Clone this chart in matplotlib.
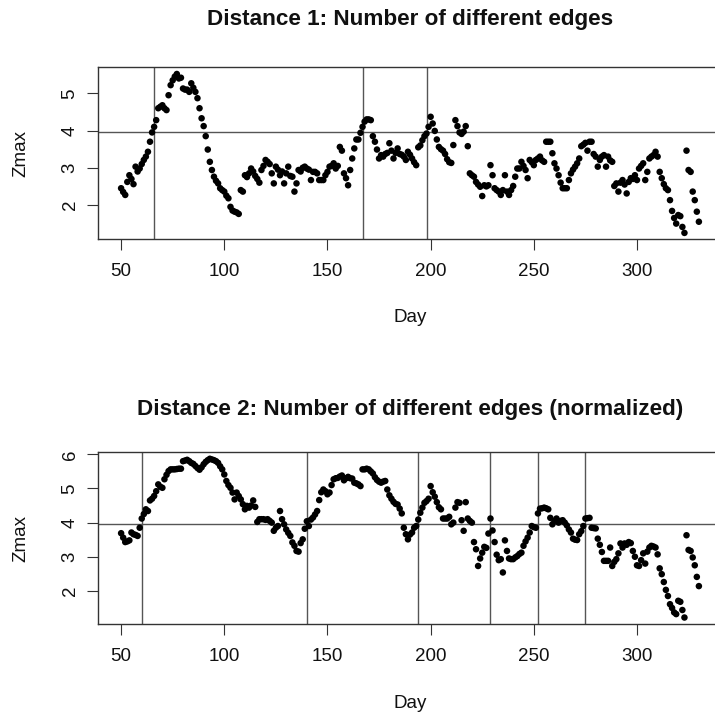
import numpy as np
import matplotlib
matplotlib.use("Agg")
import matplotlib.pyplot as plt

plt.rcParams['font.family'] = ['Liberation Sans', 'DejaVu Sans']

DAY_START, DAY_END = 50, 330
days = list(range(DAY_START, DAY_END + 1))

zmax_d1 = [
    2.45, 2.35, 2.27, 2.62, 2.80, 2.70, 2.56, 3.03, 2.90, 2.98,
    3.10, 3.21, 3.30, 3.43, 3.70, 3.95, 4.10, 4.28, 4.60, 4.64,
    4.68, 4.60, 4.55, 4.95, 5.22, 5.35, 5.45, 5.52, 5.40, 5.42,
    5.13, 5.10, 5.10, 5.04, 5.27, 5.15, 5.04, 4.87, 4.60, 4.33,
    4.12, 3.85, 3.49, 3.16, 2.94, 2.76, 2.65, 2.58, 2.45, 2.40,
    2.36, 2.25, 2.18, 1.95, 1.85, 1.82, 1.80, 1.76, 2.40, 2.36,
    2.80, 2.75, 2.85, 2.98, 2.90, 2.78, 2.70, 2.60, 2.94, 3.05,
    3.21, 3.16, 3.10, 2.85, 2.58, 3.03, 2.95, 2.80, 2.90, 2.58,
    2.85, 3.03, 2.78, 2.76, 2.36, 2.58, 2.94, 2.90, 3.00, 3.03,
    2.98, 2.95, 2.67, 2.89, 2.89, 2.85, 2.67, 2.67, 2.67, 2.80,
    2.89, 3.03, 3.05, 3.12, 2.98, 3.05, 3.56, 3.46, 2.85, 2.72,
    2.53, 2.94, 3.25, 3.52, 3.76, 3.76, 3.94, 4.10, 4.24, 4.30,
    4.30, 4.28, 3.85, 3.70, 3.49, 3.25, 3.34, 3.30, 3.37, 3.40,
    3.66, 3.46, 3.25, 3.40, 3.52, 3.37, 3.35, 3.30, 3.21, 3.43,
    3.35, 3.25, 3.15, 3.07, 3.55, 3.60, 3.74, 3.85, 3.92, 4.10,
    4.37, 4.19, 3.99, 3.76, 3.56, 3.50, 3.46, 3.37, 3.23, 3.15,
    3.13, 3.61, 4.28, 4.12, 3.95, 3.91, 3.97, 4.12, 3.58, 2.85,
    2.80, 2.76, 2.62, 2.55, 2.49, 2.24, 2.53, 2.50, 2.53, 3.07,
    2.80, 2.45, 2.40, 2.36, 2.27, 2.40, 2.80, 2.36, 2.27, 2.40,
    2.51, 2.76, 2.98, 2.98, 3.16, 3.05, 2.94, 2.72, 3.21, 3.15,
    3.07, 3.21, 3.25, 3.30, 3.20, 3.16, 3.70, 3.70, 3.70, 3.39,
    3.12, 2.98, 2.80, 2.60, 2.45, 2.45, 2.45, 2.67, 2.85, 2.95,
    3.03, 3.12, 3.25, 3.58, 3.62, 3.67, 3.46, 3.70, 3.70, 3.37,
    3.30, 3.03, 3.21, 3.30, 3.34, 3.03, 3.30, 3.20, 3.16, 2.51,
    2.58, 2.36, 2.60, 2.67, 2.55, 2.31, 2.62, 2.72, 2.70, 2.80,
    2.67, 2.98, 3.05, 3.12, 2.67, 2.89, 3.25, 3.30, 3.34, 3.43,
    3.30, 2.89, 2.72, 2.56, 2.45, 2.40, 2.13, 1.84, 1.65, 1.50,
    1.73, 1.70, 1.41, 1.25, 3.46, 2.94, 2.89, 2.36, 2.13, 1.82, 1.55,
]

zmax_d2 = [
    3.69, 3.56, 3.43, 3.45, 3.48, 3.71, 3.66, 3.64, 3.61, 3.85,
    4.12, 4.25, 4.39, 4.34, 4.65, 4.70, 4.78, 4.92, 5.12, 5.05,
    5.02, 5.27, 5.40, 5.51, 5.56, 5.56, 5.56, 5.57, 5.58, 5.58,
    5.80, 5.82, 5.84, 5.80, 5.75, 5.72, 5.66, 5.60, 5.55, 5.62,
    5.71, 5.78, 5.83, 5.87, 5.85, 5.83, 5.80, 5.75, 5.65, 5.56,
    5.41, 5.22, 5.10, 5.02, 4.88, 4.68, 4.88, 4.78, 4.68, 4.54,
    4.39, 4.49, 4.44, 4.50, 4.65, 4.46, 4.02, 4.10, 4.10, 4.10,
    4.08, 4.10, 4.05, 4.00, 3.76, 3.85, 3.90, 4.34, 4.10, 3.95,
    3.80, 3.70, 3.61, 3.42, 3.32, 3.17, 3.15, 3.40, 3.51, 3.82,
    4.04, 3.90, 4.09, 4.15, 4.24, 4.34, 4.66, 4.89, 4.97, 4.92,
    4.83, 4.88, 5.10, 5.27, 5.30, 5.31, 5.35, 5.38, 5.24, 5.30,
    5.34, 5.30, 5.29, 5.17, 5.15, 5.12, 5.07, 5.56, 5.56, 5.58,
    5.56, 5.50, 5.44, 5.33, 5.25, 5.20, 5.17, 5.20, 5.22, 4.97,
    4.80, 4.70, 4.61, 4.55, 4.53, 4.41, 4.27, 3.85, 3.66, 3.51,
    3.65, 3.71, 3.85, 3.90, 4.09, 4.29, 4.44, 4.58, 4.63, 4.70,
    5.07, 4.89, 4.76, 4.60, 4.45, 4.39, 4.12, 4.12, 4.12, 4.17,
    3.95, 4.00, 4.44, 4.60, 4.58, 4.07, 3.76, 4.60, 4.12, 4.05,
    4.00, 3.43, 3.22, 2.73, 2.95, 3.12, 3.29, 3.26, 3.68, 4.12,
    3.77, 3.43, 3.06, 2.90, 2.93, 2.54, 3.48, 3.17, 2.95, 2.93,
    2.93, 2.98, 3.02, 3.08, 3.12, 3.32, 3.45, 3.56, 3.71, 3.90,
    3.87, 3.85, 4.27, 4.41, 4.42, 4.44, 4.42, 4.39, 4.14, 3.95,
    4.05, 4.12, 4.00, 4.05, 4.07, 4.00, 3.92, 3.80, 3.71, 3.53,
    3.50, 3.49, 3.66, 3.75, 3.90, 4.12, 4.13, 4.14, 3.85, 3.84,
    3.83, 3.53, 3.35, 3.14, 2.88, 2.88, 2.88, 3.27, 2.73, 2.85,
    2.93, 3.10, 3.39, 3.27, 3.39, 3.35, 3.43, 3.40, 3.17, 3.00,
    2.75, 2.73, 2.90, 3.10, 2.80, 3.15, 3.27, 3.32, 3.30, 3.27,
    3.07, 2.66, 2.49, 2.26, 2.03, 1.85, 1.61, 1.50, 1.37, 1.32,
    1.71, 1.68, 1.44, 1.22, 3.63, 3.20, 3.17, 2.98, 2.75, 2.41, 2.14,
]

vlines_d1 = [66, 167, 198]
vlines_d2 = [60, 140, 194, 229, 252, 275]
threshold = 3.96

titles = ["Distance 1: Number of different edges",
          "Distance 2: Number of different edges (normalized)"]
xticks = [50, 100, 150, 200, 250, 300]
yticks_d1 = [2, 3, 4, 5]
yticks_d2 = [2, 3, 4, 5, 6]

W = H = 715
fig = plt.figure(figsize=(7.15, 7.15), dpi=100)

def px(x):
    return x / W

def py(y):
    return 1 - y / H

left, right = 98, 722
x_lo, x_hi = 38.8, 341.2
panels = [
    dict(top=67.3, bottom=239, vals=zmax_d1, vl=vlines_d1, yt=yticks_d1,
         ylim=(1.086, 5.70), title=titles[0], ty=19, dayy=318),
    dict(top=452.3, bottom=624, vals=zmax_d2, vl=vlines_d2, yt=yticks_d2,
         ylim=(1.03, 6.06), title=titles[1], ty=409, dayy=703),
]

for p in panels:
    ax = fig.add_axes([px(left), py(p['bottom']), (right - left) / W,
                       (p['bottom'] - p['top']) / H])
    ax.set_xlim(x_lo, x_hi)
    ax.set_ylim(*p['ylim'])
    for v in p['vl']:
        ax.axvline(v, color='#555555', lw=1.0, zorder=1)
    ax.axhline(threshold, color='#555555', lw=1.0, zorder=1)
    ax.scatter(days, p['vals'], s=22, color='black', edgecolors='none', zorder=3)
    ax.set_xticks(xticks)
    ax.set_yticks(p['yt'])
    ax.tick_params(axis='both', direction='out', length=8, width=0.8,
                   color='#333333', labelsize=13.5, labelcolor='#111111')
    ax.tick_params(axis='x', pad=9)
    ax.tick_params(axis='y', pad=6, labelrotation=90)
    for lab in ax.get_yticklabels():
        lab.set_va('center')
    for s in ax.spines.values():
        s.set_color('#333333')
        s.set_linewidth(1.0)
    ax.spines['right'].set_visible(False)
    fig.text(px(410), py(p['ty']), p['title'], ha='center', va='center',
             fontsize=16.2, fontweight='bold', color='#111111')
    fig.text(px(410), py(p['dayy']), 'Day', ha='center', va='center',
             fontsize=13.5, color='#111111')
    fig.text(px(21), py((p['top'] + p['bottom']) / 2), 'Zmax', ha='center',
             va='center', rotation=90, fontsize=13.5, color='#111111')

fig.savefig('out.png', dpi=100)
